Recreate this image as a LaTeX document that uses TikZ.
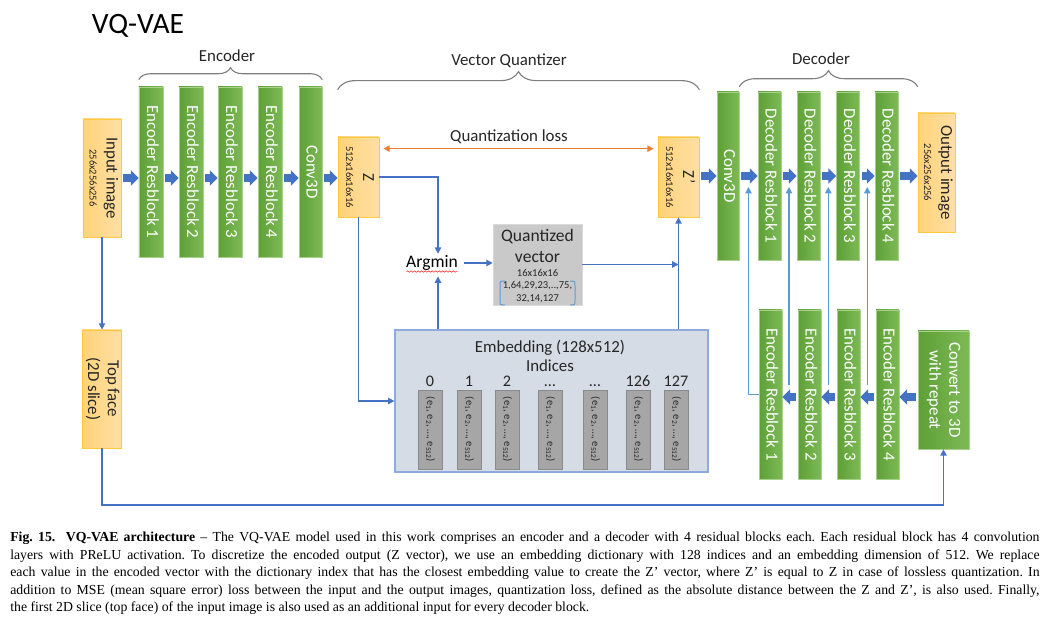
\documentclass[tikz,border=0pt]{standalone}
\usepackage{fontspec}
\setmainfont{Carlito}
\newfontfamily\captionfont{Liberation Serif}
\usetikzlibrary{arrows.meta,calc,decorations.pathreplacing,decorations.pathmorphing}

\definecolor{arrowblue}{HTML}{4472C4}
\definecolor{skipblue}{HTML}{5B9BD5}
\definecolor{lossorange}{HTML}{ED7D31}
\definecolor{greenleft}{HTML}{5E9F36}
\definecolor{greenright}{HTML}{7DBA56}
\definecolor{greenline}{HTML}{A9D18E}
\definecolor{orangeleft}{HTML}{FFD37A}
\definecolor{orangeright}{HTML}{FFDFA4}
\definecolor{orangeline}{HTML}{FFC83D}
\definecolor{embfill}{HTML}{D6DCE5}
\definecolor{embline}{HTML}{8FAADC}
\definecolor{barfill}{HTML}{A6A6A6}
\definecolor{barline}{HTML}{8A8A8A}
\definecolor{qvfill}{HTML}{C9C9C9}
\definecolor{qvline}{HTML}{D9D9D9}
\definecolor{bracegray}{HTML}{7F7F7F}
\definecolor{textdark}{HTML}{262626}

\newcommand{\vlabel}[1]{\rotatebox{-90}{\begin{tabular}{@{}c@{}}#1\end{tabular}}}
\newcommand{\sizetext}[1]{{\fontsize{7.5}{9}\selectfont #1}}

\tikzset{
  greenbox/.style={draw=greenline, line width=0.4pt, left color=greenleft, right color=greenright,
    text=white, inner sep=0pt, font=\fontsize{12}{14}\selectfont},
  encblock/.style={greenbox, minimum width=0.6cm, minimum height=4.25cm},
  orangebox/.style={draw=orangeline, line width=0.5pt, left color=orangeleft, right color=orangeright,
    text=textdark, inner sep=0pt, font=\fontsize{12}{14}\selectfont},
  fatarrow/.style={draw=arrowblue, line width=5pt, shorten <=1.5pt, -{Triangle[width=10.5pt,length=5.5pt]}},
  link/.style={draw=arrowblue, line width=1pt, -{Triangle[width=4.5pt,length=4.5pt]}},
  skiplink/.style={link, draw=skipblue},
  lossarrow/.style={draw=lossorange, line width=1pt,
    {Triangle[width=4.5pt,length=4.5pt]}-{Triangle[width=4.5pt,length=4.5pt]}},
  groupbrace/.style={draw=bracegray, line width=0.8pt, decorate, decoration={brace, amplitude=#1}},
  grouplabel/.style={text=textdark, font=\fontsize{12}{14}\selectfont},
  vecbar/.style={draw=barline, fill=barfill, minimum width=0.6cm, minimum height=1.975cm,
    inner sep=0pt, text=textdark, font=\fontsize{7.5}{9}\selectfont},
}

\begin{document}
\begin{tikzpicture}[x=0.025cm, y=-0.025cm]
  \useasboundingbox (0,0) rectangle (1062,626);

  % title
  \node[text=black, font=\fontsize{21}{24}\selectfont] (title) at (138,26) {VQ-VAE};

  % encoder column
  \node[orangebox, minimum width=0.95cm, minimum height=2.95cm] (input) at (102,178)
    {\vlabel{Input image\\[-2pt]\sizetext{256x256x256}}};
  \foreach \i/\x in {1/151, 2/191, 3/230, 4/270}
    \node[encblock] (enc\i) at (\x,172) {\vlabel{Encoder Resblock \i}};
  \node[greenbox, minimum width=0.575cm, minimum height=4.25cm] (econv) at (310.5,172) {\vlabel{Conv3D}};

  \draw[groupbrace=0.3cm] ([yshift=0.175cm]enc1.north west) -- ([yshift=0.175cm]econv.north east);
  \node[grouplabel] (enclabel) at (227,56) {Encoder};

  % vector quantizer
  \node[orangebox, minimum width=1.025cm, minimum height=2cm] (z) at (358.5,177)
    {\vlabel{Z\\[-2pt]\sizetext{512x16x16x16}}};
  \node[orangebox, minimum width=1.025cm, minimum height=2cm] (zq) at (678.5,177)
    {\vlabel{Z’\\[-2pt]\sizetext{512x16x16x16}}};

  \draw[fatarrow] (input.east) -- (input.east -| enc1.west);
  \foreach \a/\b in {enc1/enc2, enc2/enc3, enc3/enc4, enc4/econv, econv/z}
    \draw[fatarrow] (\a.east |- input.east) -- (\b.west |- input.east);

  \draw[groupbrace=0.45cm] ([yshift=1.175cm]z.north west) -- ([yshift=1.175cm]zq.north east);
  \node[grouplabel] (vqlabel) at (509,61) {Vector Quantizer};

  \draw[lossarrow] ($(z.north east)+(4,12)$) -- ($(zq.north west)+(-4,12)$);
  \node[grouplabel] (qloss) at (509,137) {Quantization loss};

  \node[text=black, font=\fontsize{12.5}{14}\selectfont, inner sep=1pt] (argmin) at (432,263) {Argmin};
  \draw[red!85, line width=0.4pt, decorate, decoration={snake, amplitude=0.5pt, segment length=2.5pt}]
    ($(argmin.base west)+(2,4)$) -- ($(argmin.base east)+(-2,4)$);

  \node[draw=qvline, fill=qvfill, minimum width=2.225cm, minimum height=2.025cm, inner sep=0pt] (qv) at (537.5,264.5) {};
  \node[text=textdark, font=\fontsize{12.5}{15.5}\selectfont, align=center] (qvtitle) at (537.5,246) {Quantized\\vector};
  \node[text=textdark, font=\fontsize{7.5}{8.9}\selectfont, align=center] (qvvals) at (537.5,286) {16x16x16\\1,64,29,23,..,75,\\32,14,127};
  \draw[skipblue, line width=0.7pt] (505,281) .. controls (500,281) .. (500,286) -- (500,300) .. controls (500,305) .. (505,305);
  \draw[skipblue, line width=0.7pt] (570,281) .. controls (575,281) .. (575,286) -- (575,300) .. controls (575,305) .. (570,305);

  \node[draw=embline, fill=embfill, line width=0.8pt, minimum width=7.825cm, minimum height=3.55cm, inner sep=0pt] (emb) at (551.5,401) {};
  \node[grouplabel, align=center, inner sep=0pt, font=\fontsize{12}{13.5}\selectfont] (embtitle) at (550,356) {Embedding (128x512)\\Indices};
  \foreach \k/\x/\lab in {0/430/0, 1/469/1, 2/507/2, 3/550/\dots, 4/595/\dots, 5/638/126, 6/676/127} {
    \node[grouplabel, anchor=base, inner sep=0pt, font=\fontsize{11.5}{13}\selectfont] (idx\k) at (\x,386) {\lab};
    \node[vecbar] (vec\k) at (\x,429.5) {\vlabel{(e\textsubscript{1}, e\textsubscript{2}, \dots, e\textsubscript{512})}};
  }

  \draw[link] (z.east) -| ([xshift=0.15cm]argmin.north);
  \draw[link, shorten >=3pt] ([xshift=0.15cm]argmin.south |- emb.north) -- ([xshift=0.15cm]argmin.south);
  \draw[link, shorten <=3pt] (argmin.east) -- (argmin.east -| qv.west);
  \draw[link] (qv.east) -- (qv.east -| zq.south);
  \draw[link] (zq.south |- emb.north) -- (zq.south);
  \draw[link] (z.south) |- (emb.west);

  % decoder column
  \node[greenbox, minimum width=0.55cm, minimum height=4.2cm] (dconv) at (728,176) {\vlabel{Conv3D}};
  \foreach \i/\x in {1/769.5, 2/808.5, 3/848, 4/886.5}
    \node[greenbox, minimum width=0.575cm, minimum height=4.2cm] (dec\i) at (\x,176) {\vlabel{Decoder Resblock \i}};
  \node[orangebox, minimum width=0.925cm, minimum height=2.975cm] (out) at (936.5,172.5)
    {\vlabel{Output image\\[-2pt]\sizetext{256x256x256}}};

  \draw[groupbrace=0.4cm] ([yshift=0.125cm]dconv.north east) -- ([yshift=0.125cm]dconv.north east -| out.west);
  \node[grouplabel] (declabel) at (821,59) {Decoder};

  \foreach \a/\b in {zq/dconv, dconv/dec1, dec1/dec2, dec2/dec3, dec3/dec4, dec4/out}
    \draw[fatarrow] (\a.east |- dconv.east) -- (\b.west |- dconv.east);

  % top face branch
  \node[orangebox, minimum width=0.95cm, minimum height=2.95cm] (topface) at (102,389) {\vlabel{Top face\\(2D slice)}};
  \node[greenbox, minimum width=1.275cm, minimum height=2.95cm] (to3d) at (943.5,390) {\vlabel{Convert to 3D\\with repeat}};
  \foreach \i/\x in {1/770.5, 2/809.5, 3/848.5, 4/887.5}
    \node[greenbox, minimum width=0.575cm, minimum height=4.225cm] (lenc\i) at (\x,394.5) {\vlabel{Encoder Resblock \i}};

  \coordinate (lrow) at (0,397);
  \draw[fatarrow] (to3d.west |- lrow) -- (lenc4.east |- lrow);
  \foreach \a/\b in {lenc4/lenc3, lenc3/lenc2, lenc2/lenc1}
    \draw[fatarrow] (\a.west |- lrow) -- (\b.east |- lrow);

  \draw[link] (input.south) -- (topface.north);
  \coordinate (bottomrun) at (0,505);
  \draw[link] (topface.south) |- (to3d.south |- bottomrun) -- (to3d.south);

  % skip inputs into the decoder blocks
  \foreach \a/\b/\n in {dconv/dec1/1, dec1/dec2/2, dec2/dec3/3, dec3/dec4/4}
    \coordinate (gap\n) at ($(\a.east)!0.5!(\b.west)$);
  \coordinate (skiptop) at (0,187);
  \coordinate (skipbot) at (0,385);
  \draw[skiplink] (lenc1.west) -| (gap1 |- skiptop);
  \foreach \n in {2,3,4}
    \draw[skiplink] (gap\n |- skipbot) -- (gap\n |- skiptop);

  % caption
  \node[anchor=north west, inner sep=0pt, text width=25.725cm, align=justify, text=black,
        font=\captionfont\fontsize{9.8}{12.45}\selectfont\frenchspacing] (caption) at (10,532)
    {\textbf{Fig. 15.\ \ VQ-VAE architecture} – The VQ-VAE model used in this work comprises an encoder and a decoder with 4 residual blocks each. Each residual block has 4 convolution\linebreak
     layers with PReLU activation. To discretize the encoded output (Z vector), we use an embedding dictionary with 128 indices and an embedding dimension of 512. We replace\linebreak
     each value in the encoded vector with the dictionary index that has the closest embedding value to create the Z’ vector, where Z’ is equal to Z in case of lossless quantization. In\linebreak
     addition to MSE (mean square error) loss between the input and the output images, quantization loss, defined as the absolute distance between the Z and Z’, is also used. Finally,\linebreak
     the first 2D slice (top face) of the input image is also used as an additional input for every decoder block.};
\end{tikzpicture}
\end{document}
